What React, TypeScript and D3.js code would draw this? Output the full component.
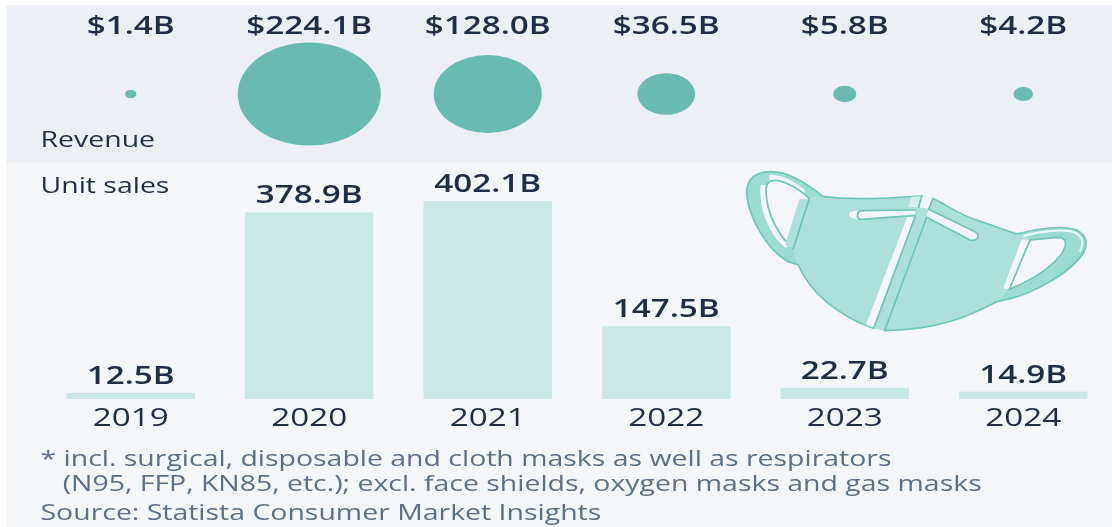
import React from "react";
import * as d3 from "d3";

const years = ["2019", "2020", "2021", "2022", "2023", "2024"];
const revenue = [1.4, 224.1, 128.0, 36.5, 5.8, 4.2];
const unitSales = [12.5, 378.9, 402.1, 147.5, 22.7, 14.9];
const footnotes = [
  "* incl. surgical, disposable and cloth masks as well as respirators",
  "   (N95, FFP, KN85, etc.); excl. face shields, oxygen masks and gas masks",
  "Source: Statista Consumer Market Insights",
];

const W = 1112, H = 527;
const FONT = "'Open Sans', 'Noto Sans', sans-serif";
const STRETCH = 1.33;
const DARK = "#1f2d47";
const BG = "#f4f6fa";

const x = d3.scaleBand<string>().domain(years).range([41.5, 1112.5]).paddingInner(0.28).paddingOuter(0.14);
const y = d3.scaleLinear().domain([0, 402.1]).range([399, 201]);
const rx = d3.scaleSqrt().domain([0, 224.1]).range([0, 71.5]);
const ry = d3.scaleSqrt().domain([0, 224.1]).range([0, 51.5]);
const cx = (d: string) => (x(d) as number) + x.bandwidth() / 2;

function T({ px, py, size, weight = 400, fill = DARK, anchor = "start", children }: any) {
  return (
    <text
      transform={`translate(${px},${py}) scale(${STRETCH},1)`}
      fontFamily={FONT}
      fontSize={size}
      fontWeight={weight}
      fill={fill}
      textAnchor={anchor}
      style={{ whiteSpace: "pre" }}
    >
      {children}
    </text>
  );
}

function Mask() {
  const line = "#6cc7b6";
  const body = "#aee0da";
  const band = "#9bdcd1";
  return (
    <g transform="translate(730,160) scale(0.3333)" strokeLinejoin="round" strokeLinecap="round">
      <path d="M280,110 C230,70 170,35 125,35 C70,35 50,60 50,100 C55,170 110,270 175,305 L205,315 L190,265 C150,235 108,160 108,90 C108,65 125,58 145,62 C180,70 210,90 238,115 Z" fill={band} />
      <path d="M100,75 C92,150 130,225 172,258 M118,52 C160,52 195,75 222,98" fill="none" stroke={BG} strokeWidth={16} strokeLinecap="butt" />
      <path d="M280,110 C230,70 170,35 125,35 C70,35 50,60 50,100 C55,170 110,270 175,305 M108,90 C108,160 150,235 190,265 M108,90 C108,65 125,58 145,62 C180,70 210,90 238,115" fill="none" stroke={line} strokeWidth={5} />
      <path d="M860,222 C920,205 1000,195 1040,210 C1070,225 1075,250 1060,280 C1020,340 900,410 800,425 L835,388 C900,365 990,310 1005,260 C1010,240 1000,232 985,232 L900,240 Z" fill={band} />
      <path d="M880,228 C930,214 1000,205 1036,218 C1058,230 1062,250 1050,275" fill="none" stroke={BG} strokeWidth={6} strokeLinecap="butt" />
      <path d="M860,222 C920,205 1000,195 1040,210 C1070,225 1075,250 1060,280 C1020,340 900,410 800,425 M835,388 C900,365 990,310 1005,260 C1010,240 1000,232 985,232 L900,240" fill="none" stroke={line} strokeWidth={5} />
      <path d="M235,115 L280,110 C350,118 420,118 578,108 L608,115 C650,135 700,170 740,180 L860,222 L900,240 C885,280 860,340 835,388 L800,425 C750,450 650,510 465,512 L430,505 C330,470 240,400 205,315 L190,265 Z" fill={body} />
      <path d="M280,110 C350,118 420,118 578,108 M608,115 C650,135 700,170 740,180 L860,222 M800,425 C750,450 650,510 465,512 M430,505 C330,470 240,400 205,315 L175,305 M238,115 L190,265 M900,240 L835,388" fill="none" stroke={line} strokeWidth={5} />
      <path d="M208,118 L165,255 L190,265 L235,118 Z" fill={body} />
      <path d="M238,115 L190,265" stroke={line} strokeWidth={5} fill="none" />
      <path d="M875,238 L820,385 L838,388 L900,240 Z" fill={BG} />
      <path d="M900,240 L838,388" stroke={line} strokeWidth={5} fill="none" />
      <path d="M578,108 L566,142 L596,146 L608,115 Z" fill={BG} />
      <path d="M545,110 L578,108 L566,142 L535,140 Z" fill="#d6eeec" />
      <path d="M532,170 L556,168 L432,503 L408,494 Z" fill={BG} />
      <path d="M556,168 L432,503 M590,172 L464,512" fill="none" stroke={line} strokeWidth={5} />
      <path d="M575,108 L566,142 M608,118 L596,148" fill="none" stroke={line} strokeWidth={5} />
      <path d="M395,152 L555,150 L555,166 L395,178 C378,178 378,156 395,152 Z" fill={BG} />
      <path d="M375,152 L395,152 L395,178 L375,176 C350,172 350,156 375,152 Z" fill={BG} />
      <path d="M596,148 L735,215 C755,228 740,245 720,240 L590,172 Z" fill={BG} />
      <path d="M555,150 L395,152 C378,156 378,178 395,178 L555,166" fill="none" stroke={line} strokeWidth={5} />
      <path d="M596,148 L735,215 C755,228 740,245 720,240 L590,172" fill="none" stroke={line} strokeWidth={5} />
    </g>
  );
}

export default function App() {
  return (
    <svg width={W} height={H} style={{ position: "fixed", left: 0, top: 0, filter: "blur(0.55px)" }}>
      <rect width={W} height={H} fill="#ffffff" />
      <rect x={6} y={5} width={W - 6} height={H - 5} fill={BG} />
      <rect x={6} y={5} width={W - 6} height={157} fill="#eceff4" />

      {years.map((d, i) => (
        <g key={d}>
          <ellipse cx={cx(d)} cy={94} rx={rx(revenue[i])} ry={ry(revenue[i])} fill="#68bbae" />
          <T px={cx(d)} py={34} size={25} weight={600} anchor="middle">{`$${revenue[i].toFixed(1)}B`}</T>
          <rect x={x(d)} y={y(unitSales[i])} width={x.bandwidth()} height={399 - y(unitSales[i])} fill="#c8e9e6" />
          <T px={cx(d)} py={y(unitSales[i]) - 9} size={25} weight={600} anchor="middle">{`${unitSales[i].toFixed(1)}B`}</T>
          <T px={cx(d)} py={426} size={25} anchor="middle">{d}</T>
        </g>
      ))}

      <T px={40.5} py={147} size={21.4}>Revenue</T>
      <T px={40.5} py={193} size={21.4}>Unit sales</T>
      <T px={40.5} py={466} size={21.4} fill="#5c6f88">{footnotes[0]}</T>
      <T px={40.5} py={491} size={21.4} fill="#5c6f88">{footnotes[1]}</T>
      <T px={40.5} py={520} size={21.4} fill="#5c6f88">{footnotes[2]}</T>

      <Mask />
    </svg>
  );
}
